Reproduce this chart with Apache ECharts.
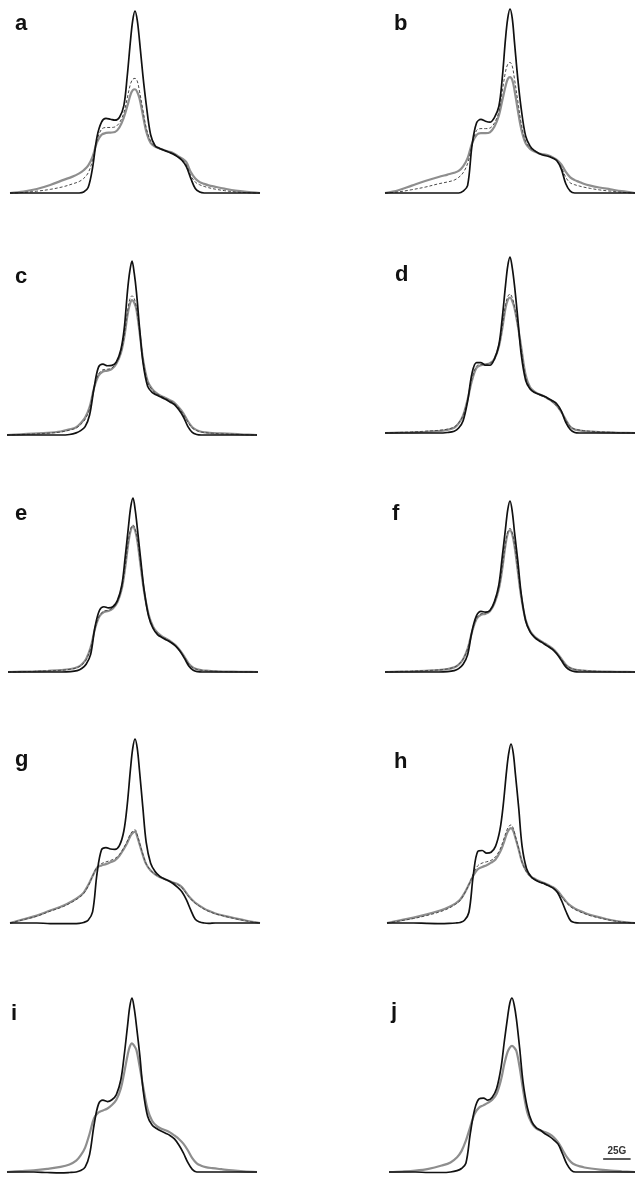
<!DOCTYPE html>
<html>
<head>
<meta charset="utf-8">
<script src="https://cdn.jsdelivr.net/npm/echarts@6/dist/echarts.min.js"></script>
<style>html,body{margin:0;padding:0;background:#fff}#c{width:635px;height:1178px}</style>
</head>
<body>
<div id="c"></div>
<script>
// magnetic field offset from the central peak (G)
const FIELD = [-112,-100,-88,-76,-64,-56,-50,-46,-42,-38,-34,-30,-26,-22,-18,-14,-10,-7,-4,-2,0,2,4,7,10,14,18,22,26,30,34,38,42,46,50,54,58,62,66,72,80,90,100,112];

const A_BLACK  = [0,0,0,0,0, 0,0,0.5,3,14, 31,39,41,40.5,40, 41.5,48,64,84,95, 100, 95,84,65,49,32, 26,24.5,23.5,22.5,21.5, 20,18,14.5,8,2.5, 0.5,0,0,0,0, 0,0,0];
const A_GRAY   = [0,0.8,2.2,4.4,7.2, 9,10.8,12.5,15,20, 28,32,33,33.2,33.5, 36,41.5,47.5,54,56.5, 57, 55.5,52,43,34,27.5, 25.5,24.5,23.5,22.8,22, 20.5,19,17,11.5,8, 6,5,4.2,3.4,2.4, 1.3,0.6,0];
const A_DASHED = [0,0.3,1,2,3.5, 5,6.3,8,11,18, 29,35,36,36,36.3, 38.5,44,52,60,62.5, 63, 61.5,56,46,36,28.5, 25.5,24.5,23.5,22.5,21.5, 20,18.5,15.5,9.5,6, 4.5,3.6,2.9,2.1,1.3, 0.6,0.2,0];

const B_BLACK  = [0,0,0,0,0, 0,0,0,1,4, 26,38,40,39,38.5, 41,47,62,84,95, 100, 95,82,62,46,31, 25.5,23,21.5,20.5,20, 19,17.5,13,5,1, 0,0,0,0,0, 0,0,0];
const B_GRAY   = [0,1.5,4,6.5,8.7, 10,11,12,14.5,19, 27,31.5,32.5,32.5,33, 36,42,50,58,62, 63, 61.5,56,45,35,27, 24,22.5,21.5,21,20.5, 19.5,18,15.5,11.5,8.5, 7,6,5,4,3, 2,1,0];
const B_DASHED = [0,0.6,1.8,3.2,5, 6,7,8.5,11,16, 26,34,35,35,35.3, 38,44,55,66,70, 71, 69,62,50,38,28, 24.5,22.8,21.5,20.8,20.2, 19.2,17.5,14,8.5,5.5, 4.5,3.8,3.2,2.5,1.7, 1,0.4,0];

const C_BLACK  = [0,0,0,0,0, 0.3,1.2,2.5,4.8,11.5, 27,39,40.7,39.8,40, 42,49,61,83,94, 100, 93,82,60,41,28, 24.5,23,21.8,20.5,19, 17.5,14.5,10.5,5,1.5, 0.3,0,0,0,0, 0,0,0];
const C_GRAY   = [0,0.4,0.8,1.2,2, 3.2,4.5,6.8,10,16, 27,34,36.5,37,38, 41,47,56,69,75, 77.5, 76,72,58,43,31, 26.5,24,22.5,21.3,20, 18.5,15.8,12.5,8,4.5, 2.8,1.9,1.5,1.1,0.9, 0.6,0.3,0];
const C_DASHED = [0,0.3,0.6,1,1.7, 2.8,4,6,9,15, 27,35,37.5,37.8,38.5, 41.5,47.5,57,71,78, 80, 78.5,73,59,43,30.5, 26,23.8,22.3,21,19.8, 18.2,15.5,12,7.5,4, 2.5,1.7,1.3,1,0.7, 0.5,0.2,0];

const D_BLACK  = [0,0,0,0,0, 0.3,1,2.8,7,18, 34,40,40,38.5,38.5, 42,50,65,84,95, 100, 94,84,65,45,30, 25,23,22,21,19.8, 18.3,16.5,12.5,6,2, 0.3,0,0,0,0, 0,0,0];
const D_GRAY   = [0,0.2,0.4,0.7,1.1, 1.8,3,5.5,10,19, 30,37,38.5,39,39.6, 42,49,59,71,75.5, 77, 75,71,61,49,33, 26,23.5,22,21,19.5, 17.8,15.5,12,7.5,3.5, 2,1.5,1.1,0.8,0.5, 0.3,0.1,0];
const D_DASHED = [0,0.3,0.6,1,1.5, 2.2,3.4,5.8,10,19, 31,38,39,39,39.5, 42,49,60,73,77.5, 79, 77,72,61,48,32, 25.5,23.2,21.8,20.8,19.3, 17.6,15.2,11.7,7.3,3.6, 2.2,1.7,1.3,1,0.7, 0.4,0.2,0];

const E_BLACK  = [0,0,0,0,0, 0.2,0.8,2,4.5,10, 26,35.5,37.5,36.8,37.5, 41,50,66,84,95, 100, 93,82,64,47,32, 25,21.5,19.8,18.4,17, 15,12,8,3.5,1, 0.2,0,0,0,0, 0,0,0];
const E_GRAY   = [0,0.2,0.4,0.7,1.1, 1.7,2.7,4.3,7.5,14, 25,32,34.5,35,36.5, 40,48,60,75,81.5, 83.7, 81,75,60,46,33, 26,22.5,20.5,19,17.5, 15.5,12.5,8.8,4.8,2.5, 1.5,1,0.8,0.5,0.3, 0.2,0.1,0];
const E_DASHED = [0,0.2,0.4,0.7,1, 1.6,2.5,4,7,13.5, 25,32.5,35,35.5,37, 40.5,48.5,61,76,82.5, 84.5, 82,76,61,46,32.5, 25.7,22.2,20.2,18.8,17.3, 15.3,12.3,8.5,4.5,2.3, 1.4,0.9,0.7,0.5,0.3, 0.2,0.1,0];

const F_BLACK  = [0,0,0,0,0, 0.2,0.8,2,4.5,10, 24,33,35.5,35,36, 41,51,67,84,95, 100, 94,82,65,46,30, 23.5,20.3,18.3,16.7,15, 13.2,10.5,6.8,3,1, 0.2,0,0,0,0, 0,0,0];
const F_GRAY   = [0,0.2,0.4,0.7,1.1, 1.7,2.7,4.3,7.5,13.5, 23.5,31,33.5,34,35.5, 40,48.5,60,74.5,81, 82.9, 80.5,74,59,44,30.5, 24,20.8,18.8,17.2,15.6, 13.8,11.2,7.8,4.3,2.3, 1.4,1,0.8,0.5,0.3, 0.2,0.1,0];
const F_DASHED = [0,0.3,0.5,0.8,1.2, 1.8,2.8,4.4,7.6,13.5, 23.5,31.5,34,34.5,36, 40.5,49,61,75.5,82, 84, 81.5,75,60,44.5,30.5, 24,20.6,18.6,17,15.4, 13.6,11,7.6,4.2,2.4, 1.5,1.1,0.9,0.6,0.4, 0.2,0.1,0];

const G_BLACK  = [0,0,0,-0.3,-0.3, -0.3,-0.2,0.3,1.5,6, 27,39.8,41,40.2,40, 42,50,64,84,95, 100, 95,83,63,44,32.5, 28,25.5,24,23,21.5, 19.5,17,12.7,7,2, 0.5,0,-0.2,0,0, 0,0,0];
const G_GRAY   = [0,2,4,6.8,9.5, 12,14.3,16.5,20.5,25.5, 30,31.3,32,33,34, 36.5,40.3,43.5,47.5,49, 49.7, 47,43,37,32,28.5, 26.5,25,24,23,22, 21.2,19.5,16.3,13.3,11, 9.3,7.8,6.6,5.2,3.9, 2.5,1.2,0];
const G_DASHED = [0,1.8,3.7,6.4,9, 11.5,13.8,16,20,25.5, 30.5,32.3,33.2,34,35, 37.2,41,44.5,48.5,50, 50.7, 48,43.8,37.5,32.3,28.6, 26.5,25,24,23,22, 21,19.3,16,13,10.7, 9,7.5,6.3,5,3.7, 2.3,1.1,0];

const H_BLACK  = [0,0,0,-0.2,-0.3, -0.2,0,0.3,1.5,6, 27,40,40.5,39,39.5, 42.8,52,66,85,95, 100, 95,83,64,43,30.5, 26,24,22.8,22,20.8, 19.5,17,12,6,1.2, 0.2,0,0,0,0, 0,0,0];
const H_GRAY   = [0,1.5,3,4.8,7, 9,11,13,16.7,21.5, 26.5,30,31.3,32.3,33.7, 35.5,39.5,44,49.5,52, 53, 51.5,47.5,41,34,29, 26,24.5,23.3,22.3,21.2, 20,18,14.9,11.8,9.5, 8,6.8,5.8,4.5,3.2, 1.7,0.7,0];
const H_DASHED = [0,1.2,2.5,4.2,6.3, 8.3,10.5,12.5,16.5,21.5, 27.5,32,33.5,34.2,35, 37,41,46,51.5,54, 54.8, 53,48.5,41.5,34,28.5, 25.5,24,22.8,21.8,20.8, 19.6,17.6,14.5,11.3,9, 7.5,6.3,5.3,4,2.8, 1.5,0.6,0];

const I_BLACK  = [0,0,0,-0.3,-0.5, -0.3,0,0.8,2.8,10, 27,39,41.3,40.5,41.5, 44.5,53,67,84,95, 100, 94,84,67,47,32, 27,25,23.5,22.3,21, 19,15.5,11,5.5,1.5, 0,0,0,0,0, 0,0,0];
const I_GRAY   = [0,0.5,1,1.8,2.9, 4.3,6.5,9.5,14,22, 31,34.2,35.4,36.5,38.5, 41.5,48,57,67,72, 74, 72.5,70,60,49,36, 29.5,26.5,25,24,22.8, 21,19,16.3,12.5,8, 5,3.6,2.8,2.2,1.6, 0.9,0.4,0];

const J_BLACK  = [0,0,0,-0.3,-0.3, 0,0.8,2,5,22, 36,42,42.5,41.3,43, 48,60,75,89,97, 100, 96,88,71,52,37, 29,25.5,24,22,20.5, 18.5,16,10.5,4.5,1, 0,0,0,0,0, 0,0,0];
const J_GRAY   = [0,0.3,0.8,1.8,3.7, 5.5,8.5,12,18,26, 33.5,37,38.3,39.7,41.5, 45,53,62,69,71.5, 72.5, 71.5,69.5,60,47.5,34, 28,25,23.8,23,21.8, 20,17,12.8,8.5,5.5, 4,3.2,2.6,2,1.4, 0.8,0.4,0];

const LABELS = ['a','b','c','d','e','f','g','h','i','j'];
const PANEL_CURVES = [
  [A_GRAY, A_DASHED, A_BLACK],
  [B_GRAY, B_DASHED, B_BLACK],
  [C_GRAY, C_DASHED, C_BLACK],
  [D_GRAY, D_DASHED, D_BLACK],
  [E_GRAY, E_DASHED, E_BLACK],
  [F_GRAY, F_DASHED, F_BLACK],
  [G_GRAY, G_DASHED, G_BLACK],
  [H_GRAY, H_DASHED, H_BLACK],
  [I_GRAY, null, I_BLACK],
  [J_GRAY, null, J_BLACK]
];
// scale bar (G) drawn in panel j
const SCALE_BAR = [83, 108];
const SCALE_LEVEL = 7.5;
const SCALE_TEXT = '25G';

// layout (pixels)
const LAYOUT = [
  {peak:135, top:11,  bottom:193, lx:23,  ly:27},
  {peak:510, top:9,   bottom:193, lx:402, ly:27},
  {peak:132, top:261, bottom:435, lx:23,  ly:280},
  {peak:510, top:257, bottom:433, lx:403, ly:278},
  {peak:133, top:498, bottom:672, lx:23,  ly:517},
  {peak:510, top:501, bottom:672, lx:400, ly:517},
  {peak:135, top:739, bottom:923, lx:23,  ly:763},
  {peak:512, top:744, bottom:923, lx:402, ly:765},
  {peak:132, top:998, bottom:1172,lx:19,  ly:1017},
  {peak:514, top:998, bottom:1172,lx:399, ly:1015}
];
const HALF_W = 125; // px for 112 G

const STYLES = [
  {color:'#8e8e8e', width:2.2, type:'solid'},
  {color:'#4a4a4a', width:1, type:[3,2]},
  {color:'#111111', width:1.7, type:'solid'}
];

const grids = [], xAxes = [], yAxes = [], series = [], graphics = [];
LAYOUT.forEach((L, i) => {
  grids.push({left: L.peak - HALF_W, width: 2*HALF_W, top: L.top, height: L.bottom - L.top});
  xAxes.push({type:'value', gridIndex:i, min:-112, max:112, show:false});
  yAxes.push({type:'value', gridIndex:i, min:0, max:100, show:false});
  PANEL_CURVES[i].forEach((arr, k) => {
    if (!arr) return;
    const s = {
      type:'line', xAxisIndex:i, yAxisIndex:i, showSymbol:false, symbol:'none',
      smooth:0.35, clip:false, silent:true, animation:false,
      lineStyle:{color:STYLES[k].color, width:STYLES[k].width, type:STYLES[k].type},
      data: FIELD.map((x, j) => [x, arr[j]])
    };
    if (i === 9 && k === 2) {
      s.markLine = {
        symbol:'none', silent:true, animation:false,
        lineStyle:{color:'#333', width:1.6, type:'solid'},
        label:{show:true, formatter:SCALE_TEXT, position:'insideMiddleTop', distance:3,
               fontFamily:'Liberation Sans, Arial, sans-serif', fontWeight:'bold', fontSize:10, color:'#333'},
        data:[[{coord:[SCALE_BAR[0], SCALE_LEVEL]},{coord:[SCALE_BAR[1], SCALE_LEVEL]}]]
      };
    }
    series.push(s);
  });
  graphics.push({type:'text', left:L.lx - 8, top:L.ly - 14,
    style:{text:LABELS[i], font:'bold 22px "Liberation Sans", Arial, sans-serif', fill:'#111'}});
});

const chart = echarts.init(document.getElementById('c'), null, {renderer:'canvas'});
chart.setOption({
  animation:false,
  backgroundColor:'#fff',
  grid:grids, xAxis:xAxes, yAxis:yAxes, series:series, graphic:graphics
});
</script>
</body>
</html>
